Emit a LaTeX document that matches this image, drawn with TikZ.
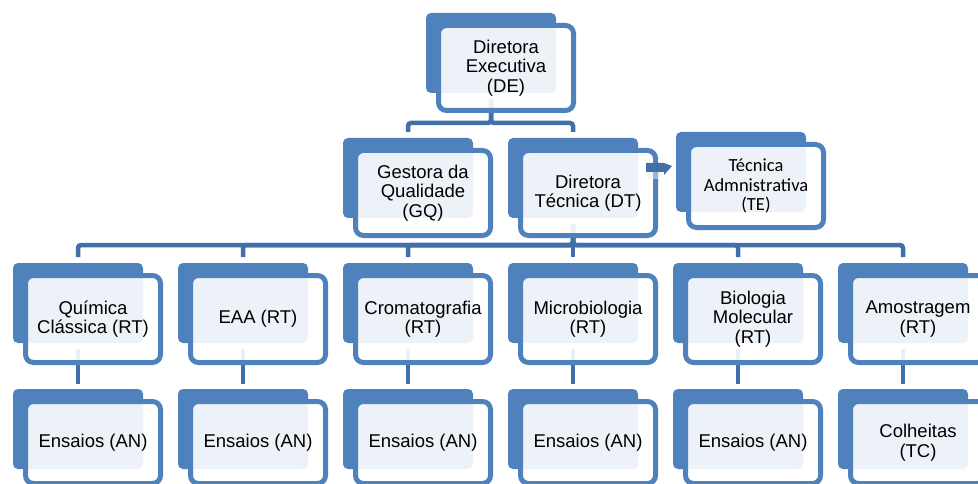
\documentclass[tikz,border=0pt]{standalone}
\usepackage{fontspec}
\setmainfont{Liberation Sans}
\newfontfamily\carlito{Carlito}
\usetikzlibrary{backgrounds}
\definecolor{bblue}{HTML}{4F81BD}
\definecolor{cblue}{HTML}{416FA8}
\tikzset{
  backbox/.style={fill=bblue, draw=none, rounded corners=5pt, minimum width=130pt, minimum height=80pt, inner sep=0pt, outer sep=0pt},
  frontbox/.style={fill=white, fill opacity=0.9, text opacity=1, draw=bblue, draw opacity=1, line width=5pt, rounded corners=8pt, minimum width=135pt, inner sep=0pt, align=center, text=black, font=\fontsize{18.5}{19.5}\selectfont},
  conn/.style={draw=cblue, line width=4.5pt, rounded corners=3pt},
  stub/.style={fill=cblue},
}
\newcommand\orgbx[5]{%
  \node[backbox] (#1-b) at ({#2+65},{#3+40}) {};
  \node[frontbox, minimum height=#4pt] (#1) at ({#2+80},{#3+12.5+#4/2}) {#5};
}
\begin{document}
\begin{tikzpicture}[x=1pt,y=-1pt]
\useasboundingbox (0,0) rectangle (978,484);
% level 0 and 1
\orgbx{DE}{426}{13}{85}{Diretora\\Executiva\\(DE)}
\orgbx{GQ}{343}{138}{85}{Gestora da\\Qualidade\\(GQ)}
\orgbx{DT}{508}{138}{85}{Diretora\\Técnica (DT)}
\orgbx{TE}{676}{132}{83}{\carlito\fontsize{18.5}{21.5}\selectfont Técnica\\\carlito\fontsize{18.5}{21.5}\selectfont Admnistrativa\\\carlito\fontsize{18.5}{21.5}\selectfont (TE)}
% level 2
\orgbx{QC}{13}{263}{87}{Química\\Clássica (RT)}
\orgbx{EA}{178}{263}{87}{EAA (RT)}
\orgbx{CR}{343}{263}{87}{Cromatografia\\(RT)}
\orgbx{MI}{508}{263}{87}{Microbiologia\\(RT)}
\orgbx{BM}{673}{263}{87}{Biologia\\Molecular\\(RT)}
\orgbx{AM}{838}{263}{87}{Amostragem\\(RT)}
% level 3
\orgbx{QCe}{13}{389}{82}{Ensaios (AN)}
\orgbx{EAe}{178}{389}{82}{Ensaios (AN)}
\orgbx{CRe}{343}{389}{82}{Ensaios (AN)}
\orgbx{MIe}{508}{389}{82}{Ensaios (AN)}
\orgbx{BMe}{673}{389}{82}{Ensaios (AN)}
\orgbx{AMe}{838}{389}{82}{Colheitas\\(TC)}
% connectors
\begin{pgfonlayer}{background}
  \draw[conn] ([yshift=-6pt]DE-b.south) |- ([yshift=15pt]GQ-b.north) -- ([yshift=6pt]GQ-b.north);
  \draw[conn] ([yshift=-6pt]DE-b.south) |- ([yshift=15pt]DT-b.north) -- ([yshift=6pt]DT-b.north);
  \foreach \c in {QC,EA,CR,MI,BM,AM}{
    \draw[conn] ([yshift=-6pt]DT-b.south) |- ([yshift=18pt]\c-b.north) -- ([yshift=6pt]\c-b.north);
    \draw[conn] ([yshift=-6pt]\c-b.south) -- ([yshift=5pt]\c e-b.north);
  }
\end{pgfonlayer}
% DT to TE stub
\fill[gray!15, opacity=0.5] ([xshift=-11pt,yshift=21pt]DT.east) -- ++(16,0) -- ++(-5,7) -- ++(-10,0) -- cycle;
\fill[stub] ([xshift=-12pt,yshift=30pt]DT.east) -- ++(18,0) -- ++(8,3) -- ++(-8,9) -- ++(0,-3) -- ++(-18,0) -- cycle;
\end{tikzpicture}
\end{document}
